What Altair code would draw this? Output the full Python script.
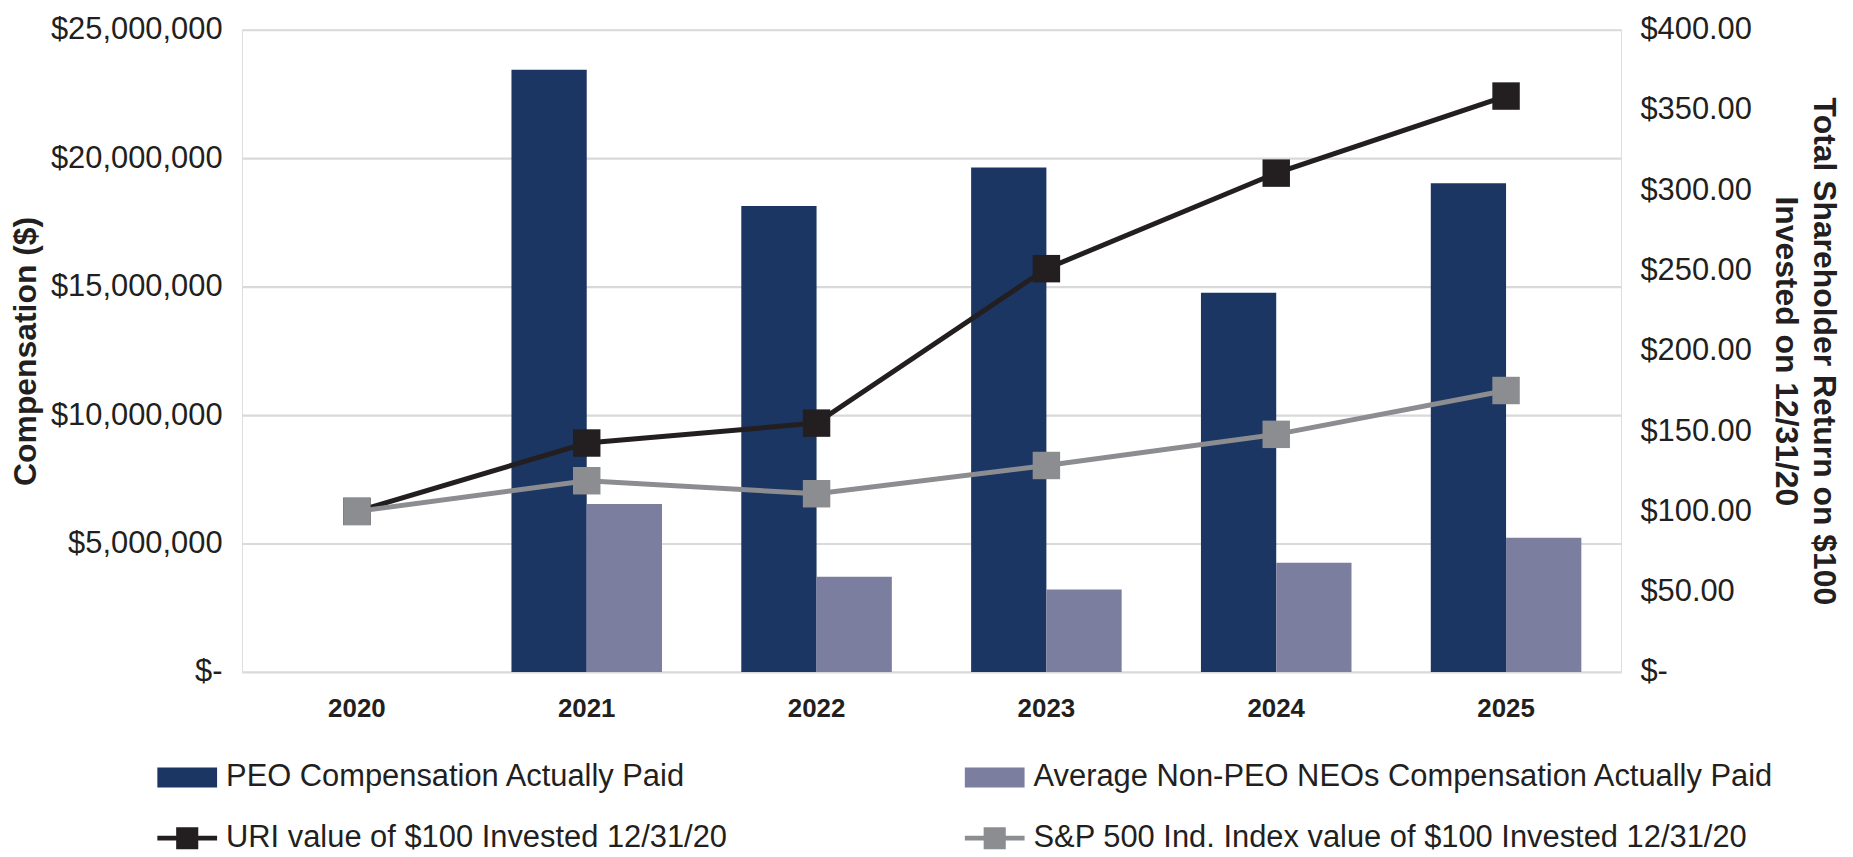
import altair as alt
import pandas as pd

# ---- data ----
years = ["2020", "2021", "2022", "2023", "2024", "2025"]
peo_cap = [None, 23440000, 18140000, 19640000, 14760000, 19020000]
neo_cap = [None, 6540000, 3710000, 3210000, 4250000, 5220000]
uri_tsr = [100.0, 142.6, 155.0, 251.2, 310.7, 358.7]
sp_tsr = [100.0, 119.1, 111.0, 128.6, 148.0, 175.3]

PEO = "PEO Compensation Actually Paid"
NEO = "Average Non-PEO NEOs Compensation Actually Paid"
URI = "URI value of $100 Invested 12/31/20"
SP = "S&P 500 Ind. Index value of $100 Invested 12/31/20"
series_names = [PEO, NEO, URI, SP]
series_colors = ["#1C3664", "#7B7E9E", "#231F20", "#8C8D90"]

left_ticks = [0, 5000000, 10000000, 15000000, 20000000, 25000000]
right_ticks = [0, 50, 100, 150, 200, 250, 300, 350, 400]

FONT = "Liberation Sans"
TXT = "#231F20"

bar_rows = []
for yr, p, n in zip(years, peo_cap, neo_cap):
    if p is not None:
        bar_rows.append({"year": yr, "series": PEO, "value": p})
    if n is not None:
        bar_rows.append({"year": yr, "series": NEO, "value": n})
bars_df = pd.DataFrame(bar_rows)

line_rows = []
for yr, u, s in zip(years, uri_tsr, sp_tsr):
    line_rows.append({"year": yr, "series": URI, "tsr": u})
    line_rows.append({"year": yr, "series": SP, "tsr": s})
lines_df = pd.DataFrame(line_rows)

color_scale = alt.Scale(domain=series_names, range=series_colors)

x_enc = alt.X(
    "year:N",
    scale=alt.Scale(domain=years, paddingInner=0.345, paddingOuter=0.1725),
    axis=alt.Axis(
        title=None, labelAngle=0, labelFont=FONT, labelFontWeight="bold",
        labelFontSize=26, labelColor=TXT, labelPadding=24,
        domain=False, ticks=False, grid=False,
    ),
)

legend = alt.Legend(
    title=None,
    orient="none",
    legendX=-85,
    legendY=721,
    columns=2,
    direction="horizontal",
    labelFont=FONT,
    labelFontSize=31,
    labelColor=TXT,
    labelOffset=9,
    labelLimit=2000,
    symbolSize=3600,
    symbolStrokeWidth=0,
    symbolType={
        "expr": "indexof(datum.value, 'Compensation') >= 0 ? "
        "'M-1,-0.333H1V0.333H-1Z' : "
        "'M-1,-0.08H1V0.08H-1ZM-0.37,-0.37H0.37V0.37H-0.37Z'"
    },
    rowPadding=16,
    columnPadding=238,
    gridAlign="each",
    padding=0,
)

bars = alt.Chart(bars_df).mark_bar().encode(
    x=x_enc,
    xOffset=alt.XOffset("series:N", scale=alt.Scale(domain=[PEO, NEO], paddingInner=0)),
    y=alt.Y(
        "value:Q",
        scale=alt.Scale(domain=[0, 25000000], nice=False),
        axis=alt.Axis(
            values=left_ticks,
            labelExpr="datum.value == 0 ? '$-' : '$' + format(datum.value, ',')",
            title="Compensation ($)",
            titleFont=FONT, titleFontSize=32, titleFontWeight="bold", titleColor=TXT,
            titlePadding=8,
            labelFont=FONT, labelFontSize=31, labelColor=TXT, labelPadding=20,
            grid=True, gridColor="#D9D9D9", gridWidth=2.2,
            domain=False, ticks=False, tickSize=0,
        ),
    ),
    color=alt.Color("series:N", scale=color_scale, legend=legend),
)

y_right = alt.Y(
    "tsr:Q",
    scale=alt.Scale(domain=[0, 400], nice=False),
    axis=alt.Axis(
        orient="right",
        values=right_ticks,
        labelExpr="datum.value == 0 ? '$-' : '$' + format(datum.value, ',.2f')",
        title=["Total Shareholder Return on $100", "Invested on 12/31/20"],
        titleFont=FONT, titleFontSize=32, titleFontWeight="bold", titleColor=TXT,
        titlePadding=17, titleLineHeight=38,
        labelFont=FONT, labelFontSize=31, labelColor=TXT, labelPadding=19,
        grid=False, domain=False, ticks=False, tickSize=0,
    ),
)

line_layers = []
for name in [URI, SP]:
    base = alt.Chart(lines_df).transform_filter(alt.datum.series == name)
    line_layers.append(
        base.mark_line(strokeWidth=5).encode(
            x=x_enc, y=y_right,
            color=alt.Color("series:N", scale=color_scale, legend=None),
        )
    )
    line_layers.append(
        base.mark_point(shape="square", filled=True, size=760, opacity=1).encode(
            x=x_enc, y=y_right,
            color=alt.Color("series:N", scale=color_scale, legend=None),
        )
    )

lines = alt.layer(*line_layers)

chart = (
    alt.layer(bars, lines)
    .resolve_scale(y="independent")
    .properties(
        width=1385,
        height=645,
        autosize=alt.AutoSizeParams(type="none"),
        padding={"left": 235, "top": 20, "right": 225, "bottom": 184},
    )
    .configure_view(stroke=None)
    .configure(background="white")
)

chart.save("out.html", embed_options={"renderer": "svg", "actions": False})
